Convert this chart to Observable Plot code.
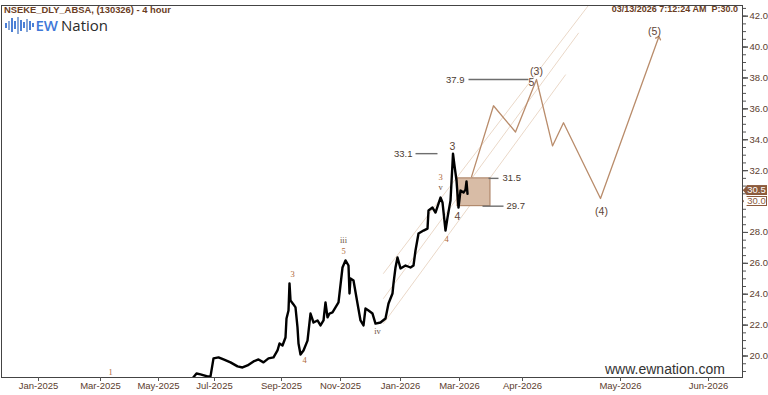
<!DOCTYPE html>
<html><head><meta charset="utf-8">
<script src="https://cdn.jsdelivr.net/npm/d3@7"></script>
<script src="https://cdn.jsdelivr.net/npm/@observablehq/plot@0.6"></script>
<style>
body{margin:0;background:#fff;}
#wrap{position:relative;width:768px;height:395px;font-family:"Liberation Sans",Arial,sans-serif;overflow:hidden;}
.hdr{position:absolute;font-weight:bold;color:#6b3d24;white-space:pre;}
#logo{position:absolute;left:5px;top:15px;height:20px;display:flex;align-items:center;}
#logo .bars{display:flex;align-items:center;gap:1.5px;margin-right:2px;}
#logo .bars span{display:block;width:1.5px;background:#4b7fd6;}
#logo .t{font-family:"Open Sans","Liberation Sans",sans-serif;font-size:15px;line-height:20px;}
#wm{position:absolute;left:605px;top:361px;font-size:14px;color:#333;}
.badge{position:absolute;left:743px;width:24px;height:10px;font-size:9.5px;text-align:center;box-sizing:border-box;padding-left:3px;}
</style></head><body><div id="wrap"></div>
<script>
// x axis: bar index (Jan-2025 = 0)
const monthLabels = ["Jan-2025","Mar-2025","May-2025","Jul-2025","Sep-2025","Nov-2025","Jan-2026","Mar-2026","Apr-2026","May-2026","Jun-2026"];
const monthBars   = [0, 62, 120, 176, 243, 302, 362, 421, 484, 582, 670];

// historical price (approximate)
const priceBars = [150,154,158,162,169,172,175,180,185,192,199,204,209,215,220,225,230,235,239,241,244,247,248,250,251,252,255,257,259,260,262,265,269,272,275,279,282,285,287,289,291,294,300,304,307,310,311,312,315,319,322,325,327,330,334,337,342,347,350,354,355,357,359,362,367,372,375,377,380,385,389,390,394,397,402,404,407,409,412,414,414.5,416,418,420,422,425,427,428,429];
const priceValues = [18.3,18.55,18.87,18.81,18.68,18.68,19.85,19.91,19.78,19.59,19.33,19.26,19.39,19.65,19.78,19.59,19.85,19.91,20.36,20.81,20.68,21.2,22.43,22.95,24.7,23.6,23.34,23.15,21.85,20.81,20.1,20.36,21.0,22.75,22.17,22.3,21.98,22.3,23.47,22.5,22.75,22.82,23.47,25.73,26.19,25.86,24.05,25.02,24.89,23.4,22.3,21.98,23.08,22.95,22.75,22.1,22.17,22.43,23.4,24.05,24.7,25.73,26.38,25.67,25.86,25.73,25.86,26.83,27.93,28.12,28.25,29.42,29.61,29.29,30.26,29.94,28.12,28.96,30.06,32.46,33.1,32.33,31.36,29.61,30.71,30.58,30.77,31.3,30.5];

// projected wave path
const projBars   = [433, 455, 477, 498, 514, 525, 562, 620];
const projValues = [31.6, 36.2, 34.5, 37.9, 33.6, 35.1, 30.2, 40.6];

// channel lines [bar1, v1, bar2, v2]
const channelA = [345, 25.35, 550, 42.7];
const channelB = [345, 23.73, 540, 40.9];
const channelC = [345, 22.11, 527, 38.2];

// zone box and levels
const zone = {b1: 419, b2: 452, lo: 29.7, hi: 31.5};
const levelValues = [33.1, 31.5, 29.7, 37.9];
const levelFrom   = [377, 450, 444, 430];
const levelTo     = [399, 460, 465, 490];
const levelLabelBar = [374, 464, 468, 426];
const levelLabelSide = ["left", "right", "right", "left"];

// wave labels
const smallLabels = ["1","3","4","iii","5","iv","3","v","4"];
const smallBars   = [72, 254, 266, 305, 305, 339, 402, 402, 408];
const smallVals   = [18.94, 25.27, 19.72, 27.47, 26.76, 21.6, 31.56, 30.9, 27.53];
const bigLabels = ["3","4","5","(3)","(4)","(5)"];
const bigBars   = [414, 419, 493, 498, 563, 616];
const bigVals   = [33.57, 29.03, 37.7, 38.42, 29.35, 41.0];

// right axis: labelled ticks, minor ticks, and the price badges (which cover the 30.0 label)
const yTicks = d3.range(20, 43, 2);
const yMinor = d3.range(19, 42.6, 0.5);
const badgeValues = [30.5, 30.0];

const price = priceBars.map((b, i) => ({b, v: priceValues[i]}));
const proj = projBars.map((b, i) => ({b, v: projValues[i]}));
const chans = [channelA, channelB, channelC].flatMap((c, k) => [{k, b: c[0], v: c[1]}, {k, b: c[2], v: c[3]}]);
const levels = levelValues.map((v, i) => ({v, a: levelFrom[i], z: levelTo[i], lb: levelLabelBar[i], side: levelLabelSide[i]}));
const small = smallLabels.map((t, i) => ({t, b: smallBars[i], v: smallVals[i]}));
const big = bigLabels.map((t, i) => ({t, b: bigBars[i], v: bigVals[i]}));
const labelMap = new Map(monthBars.map((b, i) => [b, monthLabels[i]]));
const brown = "#5c3d2e";
const roman = new Set(["iii", "iv", "v"]);

const chart = Plot.plot({
  width: 768, height: 395,
  marginTop: 5, marginBottom: 18, marginLeft: 1, marginRight: 26,
  x: {domain: [-37, 704]},
  y: {domain: [18.61, 42.69]},
  style: {fontFamily: "Liberation Sans, Arial, sans-serif", background: "transparent"},
  marks: [
    Plot.line(chans, {x: "b", y: "v", z: "k", stroke: "#ead8c8", strokeWidth: 1, clip: true}),
    Plot.rect([zone], {x1: "b1", x2: "b2", y1: "lo", y2: "hi", fill: "#d8bca6", stroke: "#a77b5c", strokeWidth: 1}),
    Plot.link(levels, {x1: "a", x2: "z", y1: "v", y2: "v", stroke: "#6e6e6e", strokeWidth: 1.4}),
    Plot.text(levels.filter(d => d.side === "left"), {x: "lb", y: "v", text: d => d.v.toFixed(1), textAnchor: "end", fill: "#4a3a30", fontSize: 9.5}),
    Plot.text(levels.filter(d => d.side === "right"), {x: "lb", y: "v", text: d => d.v.toFixed(1), textAnchor: "start", fill: "#4a3a30", fontSize: 9.5}),
    Plot.line(price, {x: "b", y: "v", stroke: "#000", strokeWidth: 2.4, clip: true}),
    Plot.line(proj, {x: "b", y: "v", stroke: "#b98c6b", strokeWidth: 1.3, markerEnd: "arrow"}),
    Plot.text(small, {x: "b", y: "v", text: "t", fill: d => roman.has(d.t) ? "#6e5442" : "#b06a3a", fontSize: 8.5, fontFamily: "Liberation Serif, serif"}),
    Plot.text(big, {x: "b", y: "v", text: "t", fill: "#5e4436", fontSize: 10.5}),
    Plot.frame({stroke: "#444", strokeWidth: 1}),
    Plot.axisY({anchor: "right", ticks: yMinor, tickSize: 3, text: null, stroke: "#555"}),
    Plot.axisY({anchor: "right", ticks: yTicks, tickSize: 5, text: null, stroke: "#555"}),
    Plot.axisY({anchor: "right", ticks: yTicks.filter(v => !badgeValues.includes(v)), tickSize: 5, tickPadding: 2, tickFormat: d3.format(".1f"), fill: brown, fontSize: 9.5, label: null, stroke: "#555"}),
    Plot.axisX({ticks: monthBars, tickFormat: d => labelMap.get(d), tickSize: 4, tickPadding: 1, fill: brown, fontSize: 9.5, label: null, stroke: "#555"})
  ]
});

const wrap = document.getElementById("wrap");
wrap.appendChild(chart);

const title = document.createElement("div");
title.className = "hdr"; title.style.left = "4px"; title.style.top = "4px"; title.style.fontSize = "9.4px";
title.textContent = "NSEKE_DLY_ABSA, (130326) - 4 hour";
wrap.appendChild(title);

const stamp = document.createElement("div");
stamp.className = "hdr"; stamp.style.right = "30px"; stamp.style.top = "4px"; stamp.style.fontSize = "9px";
stamp.textContent = "03/13/2026 7:12:24 AM  P:30.0";
wrap.appendChild(stamp);

// logo
const logoBarHeights = [5, 9, 14, 8, 17, 11, 6, 13, 9, 4];
const logo = document.createElement("div"); logo.id = "logo";
const bars = document.createElement("div"); bars.className = "bars";
logoBarHeights.forEach((h, i) => { const s = document.createElement("span"); s.style.height = h + "px"; if (i % 3 === 1) s.style.background = "#8aa8d8"; bars.appendChild(s); });
logo.appendChild(bars);
const t1 = document.createElement("span"); t1.className = "t"; t1.style.color = "#3f78d8"; t1.style.fontWeight = "600"; t1.textContent = "EW";
const t2 = document.createElement("span"); t2.className = "t"; t2.style.color = "#2b2b2b"; t2.style.marginLeft = "3px"; t2.textContent = "Nation";
logo.appendChild(t1); logo.appendChild(t2);
wrap.appendChild(logo);

const wm = document.createElement("div"); wm.id = "wm"; wm.textContent = "www.ewnation.com"; wrap.appendChild(wm);

// price badges on the right axis
const ys = chart.scale("y");
const badgeStyles = [{fill: "#8b5a3c", color: "#fff", dy: -8}, {fill: "#fff", color: "#8b5a3c", dy: -5}];
badgeValues.forEach((v, i) => {
  const b = badgeStyles[i];
  const d = document.createElement("div"); d.className = "badge";
  d.style.top = (ys.apply(v) + b.dy) + "px";
  d.style.background = b.fill; d.style.color = b.color;
  d.style.border = "1px solid #8b5a3c"; d.style.lineHeight = "8px";
  d.style.clipPath = "polygon(0 50%, 4px 0, 100% 0, 100% 100%, 4px 100%)";
  d.textContent = v.toFixed(1);
  wrap.appendChild(d);
});
</script></body></html>
